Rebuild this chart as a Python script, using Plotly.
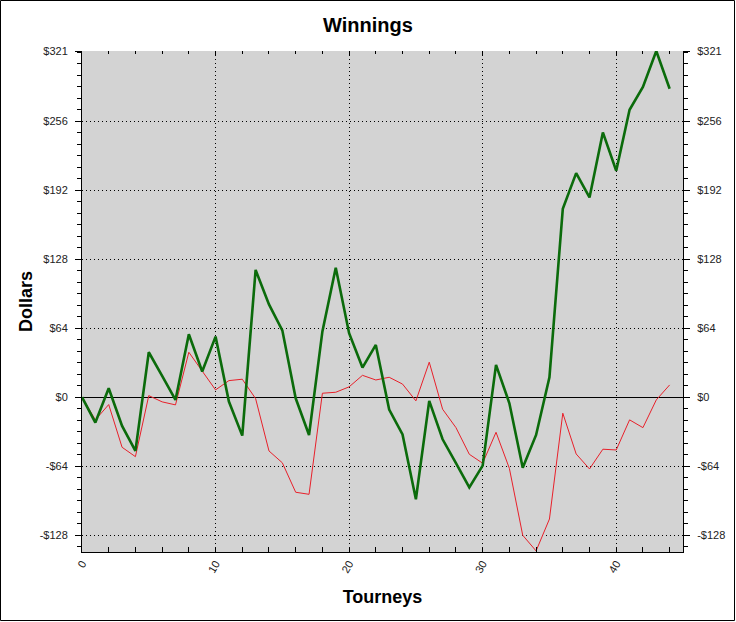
import plotly.graph_objects as go

# tourney index and the two running totals
tourneys = list(range(45))
winnings = [0, -23.5, 8.3, -26.6, -49.8, 41.7, 19.8, -2.5, 58.4, 23.8,
            56.2, -4, -35.6, 118, 86, 62, -1, -35, 61, 120,
            59.4, 27.5, 48.5, -11.5, -34.5, -94.6, -3.4, -39, -61, -83.6,
            -63.4, 30, -5.6, -65.3, -35, 18.5, 174.7, 207.8, 185.2, 245.5,
            210, 266.5, 287.6, 321, 286]
net = [0, -21, -6.8, -46.4, -55.1, 1.5, -4.3, -7.1, 41.7, 24.1,
       6.8, 15.4, 16.7, -1.3, -49.8, -60.8, -88.1, -90, 3.7, 4.6,
       9.6, 20.3, 16, 18.5, 12.2, -3.4, 32.5, -11.1, -28.2, -52.9,
       -61.2, -32.5, -66, -128, -142.5, -112.9, -14.8, -52.6, -66.5, -48.2,
       -48.9, -21, -28.2, -2.5, 11.4]

x_ticks = [0, 10, 20, 30, 40]
y_ticks = [-128, -64, 0, 64, 128, 192, 256, 321]
y_labels = ["-$128", "-$64", "$0", "$64", "$128", "$192", "$256", "$321"]

W, H = 736, 622
ml, mr, mt, mb = 82, 53, 51, 70
x_range = [0, 45]
y_range = [min(net + winnings) - 1, max(net + winnings)]

font = "Liberation Sans, Arial, sans-serif"
tickfont = dict(family=font, size=11, color="#222")
dots = "1px,3px"

fig = go.Figure()
fig.add_trace(go.Scatter(x=tourneys, y=net, mode="lines",
                         line=dict(color="#e8202a", width=1),
                         hoverinfo="skip", showlegend=False))
fig.add_trace(go.Scatter(x=tourneys, y=winnings, mode="lines",
                         line=dict(color="#0b6b0b", width=2.6),
                         hoverinfo="skip", showlegend=False))
# dummy trace so the top/right axes get drawn
fig.add_trace(go.Scatter(x=[0], y=[0], xaxis="x2", yaxis="y2", mode="markers",
                         marker=dict(opacity=0), hoverinfo="skip", showlegend=False))

pw = W - ml - mr
ph = H - mt - mb

fig.update_layout(
    width=W, height=H,
    margin=dict(l=ml, r=mr, t=mt, b=mb, autoexpand=False),
    paper_bgcolor="white",
    plot_bgcolor="#d3d3d3",
    title=dict(text="Winnings", x=0.5, xanchor="center", y=1 - 25 / H, yanchor="middle",
               font=dict(family=font, size=20, color="black", weight="bold")),
    xaxis=dict(range=x_range, tickvals=x_ticks, tickangle=-60, tickfont=tickfont,
               ticks="inside", ticklen=5, tickcolor="black", automargin=False,
               showline=True, linecolor="black", linewidth=1,
               showgrid=True, gridcolor="black", griddash=dots, gridwidth=1,
               zeroline=False,
               minor=dict(dtick=2, ticks="inside", ticklen=5, tickcolor="black", showgrid=False),
               title=dict(text="Tourneys", standoff=16,
                          font=dict(family=font, size=18, color="black", weight="bold"))),
    yaxis=dict(range=y_range, tickvals=y_ticks, ticktext=y_labels, tickfont=tickfont,
               ticks="outside", ticklen=6, tickcolor="black", ticklabelstandoff=5,
               automargin=False,
               showline=True, linecolor="black", linewidth=1,
               showgrid=True, gridcolor="black", griddash=dots, gridwidth=1,
               zeroline=True, zerolinecolor="black", zerolinewidth=1,
               minor=dict(dtick=64 / 6, tick0=0, ticks="outside", ticklen=4,
                          tickcolor="black", showgrid=False),
               title=dict(text="Dollars", standoff=2,
                          font=dict(family=font, size=18, color="black", weight="bold"))),
    xaxis2=dict(range=x_range, overlaying="x", side="top", tickvals=x_ticks,
                showticklabels=False, ticks="inside", ticklen=4, tickcolor="black",
                automargin=False, showline=False, showgrid=False, zeroline=False,
                minor=dict(dtick=2, ticks="inside", ticklen=3, tickcolor="black", showgrid=False)),
    yaxis2=dict(range=y_range, overlaying="y", side="right", tickvals=y_ticks,
                ticktext=y_labels, tickfont=tickfont, automargin=False,
                ticks="outside", ticklen=6, tickcolor="black", ticklabelstandoff=5,
                showline=True, linecolor="black", linewidth=1,
                showgrid=False, zeroline=False,
                minor=dict(dtick=64 / 6, tick0=0, ticks="outside", ticklen=4,
                           tickcolor="black", showgrid=False)),
)

# thin frame round the whole picture
fig.add_shape(type="rect", xref="paper", yref="paper",
              x0=-(ml - 0.5) / pw, x1=1 + (mr - 1.5) / pw,
              y0=-(mb - 1.5) / ph, y1=1 + (mt - 0.5) / ph,
              line=dict(color="black", width=1), layer="above")

# page body has an 8px margin by default, drop it so the chart sits at 0,0
fig.write_html("out.html", config={"displayModeBar": False},
               post_script="document.body.style.margin='0';")
